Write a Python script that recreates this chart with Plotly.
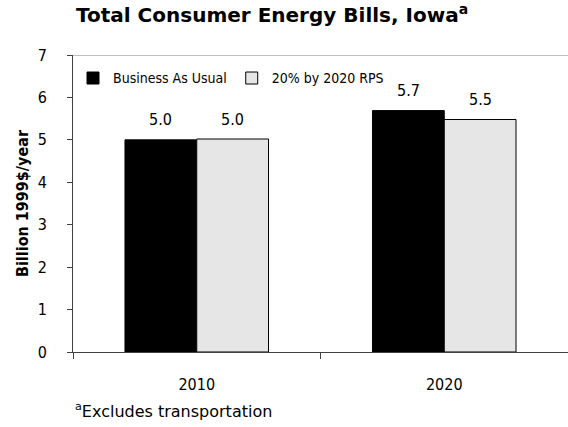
import plotly.graph_objects as go

categories = ["2010", "2020"]
bau = [5.0, 5.69]
rps = [5.02, 5.48]
bau_labels = ["5.0", "5.7"]
rps_labels = ["5.0", "5.5"]
y_ticks = [0, 1, 2, 3, 4, 5, 6, 7]

NARROW = "DejaVu Sans Condensed, Liberation Sans Narrow, Arial Narrow, sans-serif"
TAHOMA = "DejaVu Sans, Tahoma, sans-serif"
BARGAP = 0.42
HALF = (1 - BARGAP) / 4

fig = go.Figure()
fig.add_trace(go.Bar(
    x=categories, y=bau, name="Business As Usual",
    marker=dict(color="black", line=dict(color="black", width=1)),
))
fig.add_trace(go.Bar(
    x=categories, y=rps, name="20% by 2020 RPS",
    marker=dict(color="white", line=dict(color="black", width=1),
                pattern=dict(shape="-", fgcolor="#9a9a9a", bgcolor="white",
                             size=2, solidity=0.5)),
))

annotations = []
for i, c in enumerate(categories):
    annotations.append(dict(x=i - HALF, y=bau[i], text=bau_labels[i], xref="x", yref="y",
                            showarrow=False, yshift=20,
                            font=dict(family=NARROW, size=16, color="black")))
    annotations.append(dict(x=i + HALF, y=rps[i], text=rps_labels[i], xref="x", yref="y",
                            showarrow=False, yshift=20,
                            font=dict(family=NARROW, size=16, color="black")))
annotations.append(dict(x=0, y=1, xref="paper", yref="paper", xanchor="left",
                        yanchor="bottom", yshift=26, xshift=1,
                        text="<b>Total Consumer Energy Bills, Iowa<sup>a</sup></b>",
                        showarrow=False, font=dict(family=TAHOMA, size=20, color="black")))
annotations.append(dict(x=0, y=0, xref="paper", yref="paper", xanchor="left",
                        yanchor="top", yshift=-46, xshift=0,
                        text="<sup>a</sup>Excludes transportation",
                        showarrow=False, font=dict(family=TAHOMA, size=16, color="black")))

fig.update_layout(
    width=568, height=427,
    margin=dict(l=73, r=0, t=55, b=75),
    paper_bgcolor="white", plot_bgcolor="white",
    barmode="group", bargap=BARGAP, bargroupgap=0,
    showlegend=True,
    legend=dict(orientation="h", x=0, y=0.975, xanchor="left", yanchor="top",
                font=dict(family=NARROW, size=14, color="black"),
                itemwidth=30, bgcolor="rgba(0,0,0,0)",
                traceorder="normal"),
    annotations=annotations,
    shapes=[dict(type="line", xref="paper", yref="y", x0=0, x1=1, y0=7, y1=7,
                 line=dict(color="#808080", width=1))],
    xaxis=dict(type="category", tickson="boundaries", ticks="outside", ticklen=6,
               tickcolor="#404040", showline=True, linecolor="#404040", linewidth=1,
               showgrid=False, ticklabelstandoff=18,
               tickfont=dict(family=NARROW, size=16, color="black")),
    yaxis=dict(range=[0, 7], tickvals=y_ticks, ticks="outside", ticklen=5,
               tickcolor="#404040", showline=True, linecolor="#404040", linewidth=1,
               showgrid=False, zeroline=False, ticklabelstandoff=17,
               tickfont=dict(family=NARROW, size=16, color="black"),
               title=dict(text="<b>Billion 1999$/year</b>", standoff=5,
                          font=dict(family=NARROW, size=16, color="black"))),
)

fig.write_html("out.html", config={"displayModeBar": False},
               post_script="document.body.style.margin='0';")
